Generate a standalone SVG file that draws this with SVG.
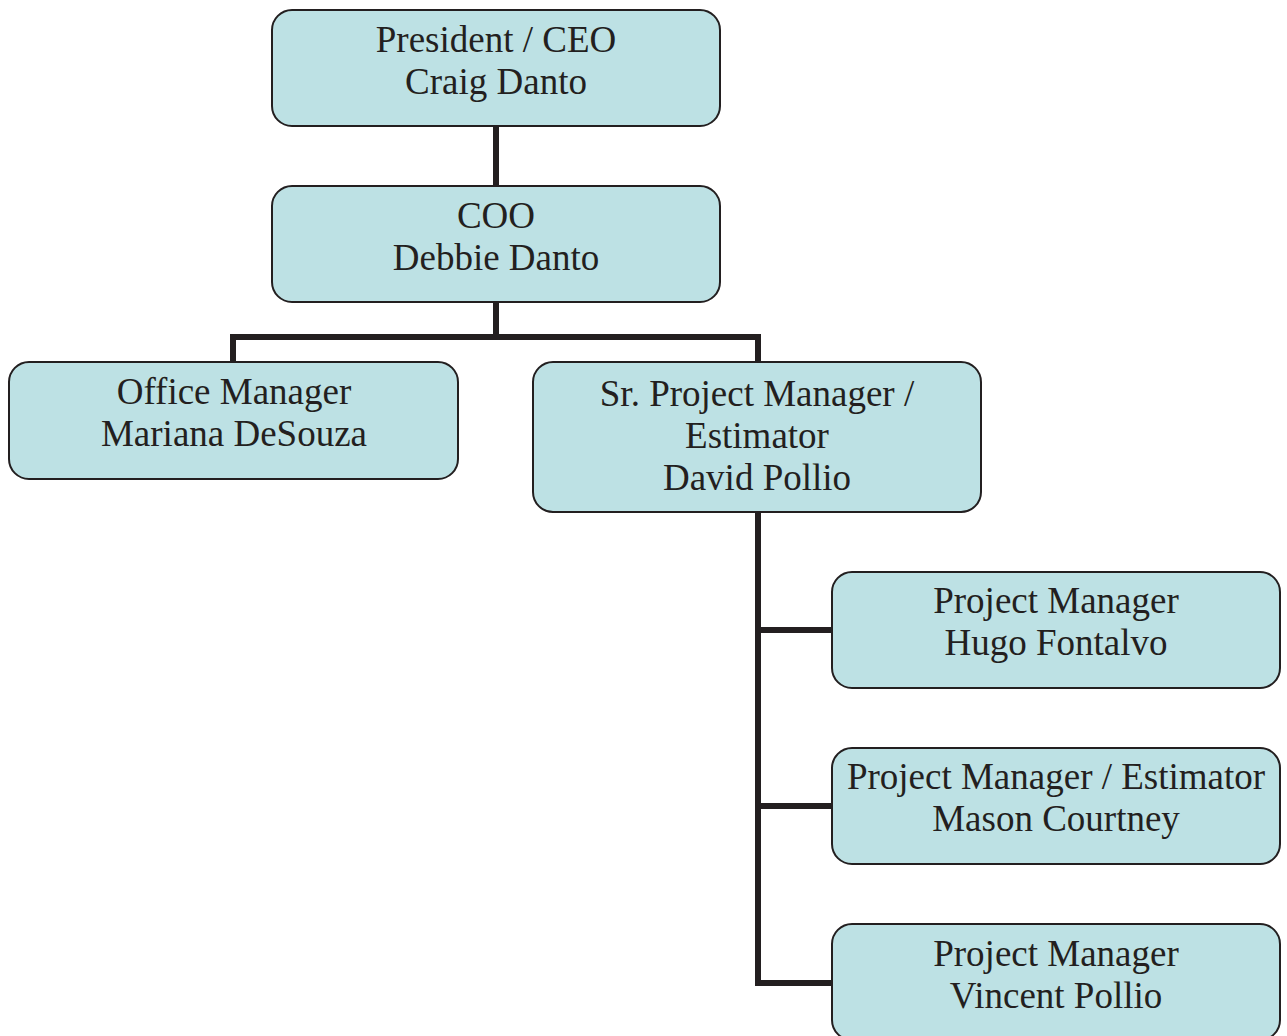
<svg xmlns="http://www.w3.org/2000/svg" width="1287" height="1036" viewBox="0 0 1287 1036">
<style>
.box{fill:#bde1e4;stroke:#231f20;stroke-width:2}
.lbl{font-family:"Liberation Serif","Times New Roman",serif;font-size:37px;fill:#231f20;text-anchor:middle}
.con{fill:none;stroke:#231f20;stroke-width:6;stroke-linejoin:miter}
</style>
<rect width="1287" height="1036" fill="#ffffff"/>
<g id="connectors">
<path class="con" d="M496 126V186"/>
<path class="con" d="M496 302V337"/>
<path class="con" d="M233 362V337H758V362"/>
<path class="con" d="M758 512V983H832"/>
<path class="con" d="M758 630H832"/>
<path class="con" d="M758 806H832"/>
</g>
<g id="ceo">
<rect class="box" x="272" y="10" width="448" height="116" rx="20"/>
<text class="lbl" x="496" y="52">President / CEO</text>
<text class="lbl" x="496" y="94">Craig Danto</text>
</g>
<g id="coo">
<rect class="box" x="272" y="186" width="448" height="116" rx="20"/>
<text class="lbl" x="496" y="228">COO</text>
<text class="lbl" x="496" y="270">Debbie Danto</text>
</g>
<g id="office">
<rect class="box" x="9" y="362" width="449" height="117" rx="20"/>
<text class="lbl" x="234" y="404">Office Manager</text>
<text class="lbl" x="234" y="446">Mariana DeSouza</text>
</g>
<g id="srpm">
<rect class="box" x="533" y="362" width="448" height="150" rx="20"/>
<text class="lbl" x="757" y="406">Sr. Project Manager /</text>
<text class="lbl" x="757" y="448">Estimator</text>
<text class="lbl" x="757" y="490">David Pollio</text>
</g>
<g id="pm1">
<rect class="box" x="832" y="572" width="448" height="116" rx="20"/>
<text class="lbl" x="1056" y="613">Project Manager</text>
<text class="lbl" x="1056" y="655">Hugo Fontalvo</text>
</g>
<g id="pm2">
<rect class="box" x="832" y="748" width="448" height="116" rx="20"/>
<text class="lbl" x="1056" y="789">Project Manager / Estimator</text>
<text class="lbl" x="1056" y="831">Mason Courtney</text>
</g>
<g id="pm3">
<rect class="box" x="832" y="924" width="448" height="116" rx="20"/>
<text class="lbl" x="1056" y="966">Project Manager</text>
<text class="lbl" x="1056" y="1008">Vincent Pollio</text>
</g>
</svg>
